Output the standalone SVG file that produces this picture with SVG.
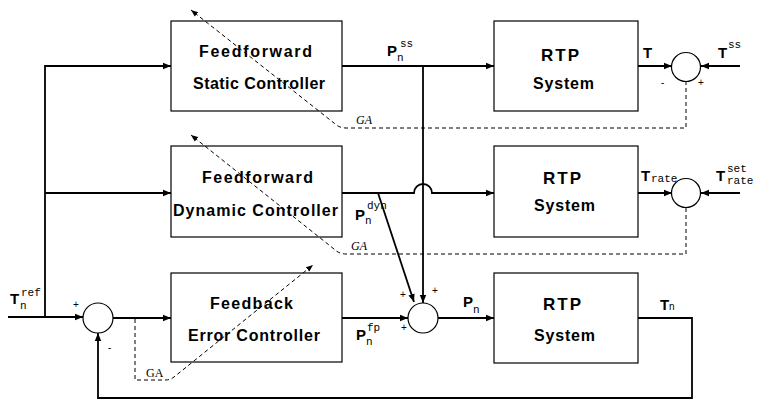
<svg xmlns="http://www.w3.org/2000/svg" width="759" height="404" viewBox="0 0 759 404">
<defs>
<marker id="ah" viewBox="0 0 10 10" refX="10" refY="5" markerWidth="8" markerHeight="8" markerUnits="userSpaceOnUse" orient="auto">
<path d="M0,1 L10,5 L0,9 Z" fill="#000"/>
</marker>
<marker id="ahs" viewBox="0 0 10 10" refX="10" refY="5" markerWidth="7" markerHeight="7" markerUnits="userSpaceOnUse" orient="auto">
<path d="M0,1 L10,5 L0,9 Z" fill="#000"/>
</marker>
</defs>
<style>
.blk{fill:none;stroke:#000;stroke-width:1.2}
.sum{fill:none;stroke:#000;stroke-width:1.2}
.w{fill:none;stroke:#000;stroke-width:1.8}
.d{fill:none;stroke:#000;stroke-width:1;stroke-dasharray:4,3}
.bl{font-family:"Liberation Sans",Arial,sans-serif;font-weight:bold;font-size:16px;fill:#000}
.rt{font-family:"Liberation Sans",Arial,sans-serif;font-weight:bold;font-size:17px;fill:#000}
.lb{font-family:"Liberation Sans",Arial,sans-serif;font-weight:bold;font-size:15px;fill:#000}
.mo{font-family:"Liberation Mono","Courier New",monospace;font-size:11px;fill:#000}
.ga{font-family:"Liberation Serif","Times New Roman",serif;font-style:italic;font-size:12px;fill:#000}
.ga2{font-family:"Liberation Serif","Times New Roman",serif;font-size:12px;fill:#000}
.sg{font-family:"Liberation Sans",Arial,sans-serif;font-size:10px;fill:#000}
</style>
<rect width="759" height="404" fill="#fff"/>

<g id="ff_static">
<rect class="blk" x="171" y="21" width="171" height="90"/>
<text class="bl" x="199" y="57" textLength="113" lengthAdjust="spacing">Feedforward</text>
<text class="bl" x="193" y="89" textLength="132" lengthAdjust="spacing">Static Controller</text>
</g>
<g id="ff_dynamic">
<rect class="blk" x="171" y="146" width="171" height="91"/>
<text class="bl" x="202" y="183" textLength="111" lengthAdjust="spacing">Feedforward</text>
<text class="bl" x="173" y="216" textLength="165" lengthAdjust="spacing">Dynamic Controller</text>
</g>
<g id="fb_error">
<rect class="blk" x="171" y="273" width="171" height="89"/>
<text class="bl" x="210" y="309" textLength="83" lengthAdjust="spacing">Feedback</text>
<text class="bl" x="188" y="341" textLength="132" lengthAdjust="spacing">Error Controller</text>
</g>
<g id="rtp1">
<rect class="blk" x="494" y="21" width="144" height="90"/>
<text class="rt" x="541" y="61" textLength="38" lengthAdjust="spacing">RTP</text>
<text class="bl" x="533" y="89" textLength="61" lengthAdjust="spacing">System</text>
</g>
<g id="rtp2">
<rect class="blk" x="494" y="146" width="144" height="91"/>
<text class="rt" x="543" y="184" textLength="38" lengthAdjust="spacing">RTP</text>
<text class="bl" x="534" y="211" textLength="61" lengthAdjust="spacing">System</text>
</g>
<g id="rtp3">
<rect class="blk" x="494" y="273" width="144" height="90"/>
<text class="rt" x="543" y="310" textLength="38" lengthAdjust="spacing">RTP</text>
<text class="bl" x="534" y="341" textLength="61" lengthAdjust="spacing">System</text>
</g>

<g id="sum_in">
<circle class="sum" cx="98" cy="318" r="15"/>
<text class="sg" x="73" y="308">+</text>
<text class="sg" x="108" y="351">-</text>
</g>
<g id="sum_p">
<circle class="sum" cx="423" cy="318" r="15"/>
<text class="sg" x="400" y="298">+</text>
<text class="sg" x="432" y="294">+</text>
<text class="sg" x="401" y="331">+</text>
</g>
<g id="cmp_ss">
<circle class="sum" cx="686" cy="67" r="14.5"/>
<text class="sg" x="661" y="86">-</text>
<text class="sg" x="698" y="86">+</text>
</g>
<g id="cmp_rate">
<circle class="sum" cx="686" cy="193" r="14.5"/>
</g>

<g id="connectors">
<path class="w" d="M8,317 H83" marker-end="url(#ah)"/>
<path class="w" d="M45,317 V66 H171" marker-end="url(#ah)"/>
<path class="w" d="M45,193 H171" marker-end="url(#ah)"/>
<path class="w" d="M113,318 H171" marker-end="url(#ah)"/>
<path class="w" d="M342,318 H408" marker-end="url(#ah)"/>
<path class="w" d="M438,318 H494" marker-end="url(#ah)"/>
<path class="w" d="M638,318 H692 V398 H98 V333" marker-end="url(#ah)"/>
<path class="w" d="M342,66 H494" marker-end="url(#ah)"/>
<path class="w" d="M423,66 V303" marker-end="url(#ah)"/>
<path class="w" d="M342,193 H414 A9,9 0 0 1 432,193 H494" marker-end="url(#ah)"/>
<path class="w" d="M378,193 L414,302" marker-end="url(#ah)"/>
<path class="w" d="M638,66 H672" marker-end="url(#ah)"/>
<path class="w" d="M740,66 H701" marker-end="url(#ah)"/>
<path class="w" d="M638,193 H672" marker-end="url(#ah)"/>
<path class="w" d="M740,193 H701" marker-end="url(#ah)"/>
<path class="d" d="M686,81 V128 H346 Q339,128 334,123 L191,10" marker-end="url(#ahs)"/>
<path class="d" d="M686,208 V254 H346 Q339,254 334,249 L191,135" marker-end="url(#ahs)"/>
<path class="d" d="M135,319 V380 H166 Q170,380 174,377 L313,265" marker-end="url(#ahs)"/>
</g>

<g id="labels">
<text class="lb" x="10" y="304">T</text><text class="mo" x="21" y="296">ref</text><text class="mo" x="20" y="309" font-size="10">n</text>
<text class="lb" x="387" y="56">P</text><text class="mo" x="400" y="47">ss</text><text class="mo" x="397" y="61">n</text>
<text class="lb" x="355" y="220">P</text><text class="mo" x="367" y="209">dyn</text><text class="mo" x="365" y="224">n</text>
<text class="lb" x="356" y="340">P</text><text class="mo" x="367" y="331">fp</text><text class="mo" x="366" y="345">n</text>
<text class="lb" x="463" y="307">P</text><text class="mo" x="473" y="313">n</text>
<text class="lb" x="660" y="310">T</text><text class="sg" x="669" y="310" font-size="12">n</text>
<text class="lb" x="643" y="58">T</text>
<text class="lb" x="718" y="58">T</text><text class="mo" x="728" y="48">ss</text>
<text class="lb" x="641" y="181">T</text><text class="mo" x="651" y="182">rate</text>
<text class="lb" x="716" y="181">T</text><text class="mo" x="727" y="172" font-size="9">set</text><text class="mo" x="727" y="184" font-size="9">rate</text>
<text class="ga" x="356" y="124">GA</text>
<text class="ga" x="351" y="250">GA</text>
<text class="ga2" x="146" y="377">GA</text>
</g>
</svg>
